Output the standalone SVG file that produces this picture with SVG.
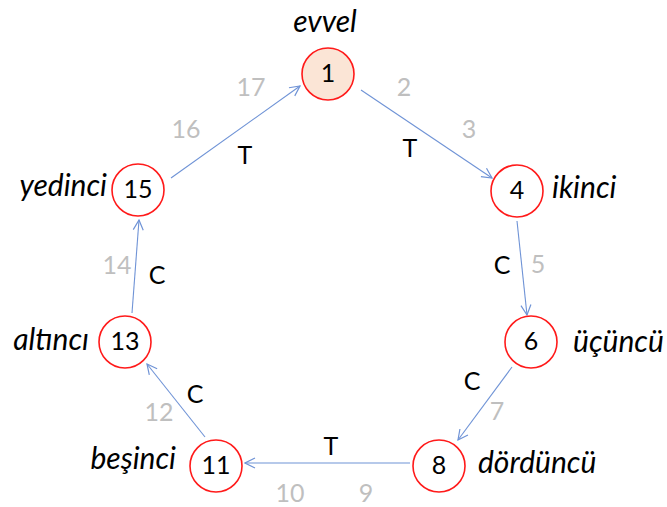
<svg xmlns="http://www.w3.org/2000/svg" width="667" height="507" viewBox="0 0 667 507">
  <defs>
    <marker id="arr" viewBox="0 0 12 12" refX="11" refY="6" markerWidth="12" markerHeight="12" markerUnits="userSpaceOnUse" orient="auto">
      <path d="M1,1 L11,6 L1,11" fill="none" stroke="#6f93d6" stroke-width="1.2"/>
    </marker>
  </defs>
  <style>
    text { font-family: Lato, "Open Sans", "Liberation Sans", sans-serif; }
    .node circle { fill: #ffffff; stroke: #ff1a1a; stroke-width: 1.6; }
    .node text { font-size: 25px; fill: #000; text-anchor: middle; }
    .name { font-size: 30px; font-style: italic; fill: #000; }
    .step { font-size: 25px; fill: #bfbfbf; text-anchor: middle; }
    .lbl { font-size: 25px; fill: #000; text-anchor: middle; }
    .edge { stroke: #6f93d6; stroke-width: 1.1; fill: none; marker-end: url(#arr); }
  </style>
  <rect width="667" height="507" fill="#ffffff"/>

  <g id="connectors">
    <line class="edge" x1="361" y1="90" x2="492" y2="178"/>
    <line class="edge" x1="517" y1="221" x2="527" y2="315"/>
    <line class="edge" x1="512" y1="367" x2="458" y2="440"/>
    <line class="edge" x1="410" y1="463" x2="245" y2="463"/>
    <line class="edge" x1="205" y1="437" x2="147" y2="364"/>
    <line class="edge" x1="132" y1="313" x2="139" y2="220"/>
    <line class="edge" x1="171" y1="178" x2="300" y2="86"/>
  </g>

  <g id="node-1" class="node">
    <circle cx="328" cy="74" r="26" style="fill:#fbe5d6"/>
    <text x="328" y="82">1</text>
  </g>
  <g id="node-4" class="node">
    <circle cx="517" cy="191" r="26"/>
    <text x="517" y="199">4</text>
  </g>
  <g id="node-6" class="node">
    <circle cx="531" cy="342" r="26"/>
    <text x="531" y="350">6</text>
  </g>
  <g id="node-8" class="node">
    <circle cx="439" cy="466" r="26"/>
    <text x="439" y="474">8</text>
  </g>
  <g id="node-11" class="node">
    <circle cx="216" cy="466" r="26"/>
    <text x="216" y="474">11</text>
  </g>
  <g id="node-13" class="node">
    <circle cx="125" cy="342" r="26"/>
    <text x="125" y="350">13</text>
  </g>
  <g id="node-15" class="node">
    <circle cx="138" cy="190" r="26"/>
    <text x="138" y="198">15</text>
  </g>

  <g id="names">
    <text class="name" x="325" y="32" text-anchor="middle">evvel</text>
    <text class="name" x="552" y="198">ikinci</text>
    <text class="name" x="573" y="352">üçüncü</text>
    <text class="name" x="478" y="473">dördüncü</text>
    <text class="name" x="176" y="469" text-anchor="end">beşinci</text>
    <text class="name" x="89" y="350" text-anchor="end">altıncı</text>
    <text class="name" x="107" y="196" text-anchor="end">yedinci</text>
  </g>

  <g id="steps">
    <text class="step" x="251" y="96">17</text>
    <text class="step" x="404" y="96">2</text>
    <text class="step" x="186" y="138">16</text>
    <text class="step" x="469" y="138">3</text>
    <text class="step" x="538" y="273">5</text>
    <text class="step" x="117" y="274">14</text>
    <text class="step" x="497" y="420">7</text>
    <text class="step" x="159" y="421">12</text>
    <text class="step" x="290" y="502">10</text>
    <text class="step" x="366" y="502">9</text>
  </g>

  <g id="labels">
    <text class="lbl" x="245" y="164">T</text>
    <text class="lbl" x="410" y="157">T</text>
    <text class="lbl" x="502" y="274">C</text>
    <text class="lbl" x="157" y="284">C</text>
    <text class="lbl" x="472" y="390">C</text>
    <text class="lbl" x="195" y="403">C</text>
    <text class="lbl" x="331" y="455">T</text>
  </g>
</svg>
